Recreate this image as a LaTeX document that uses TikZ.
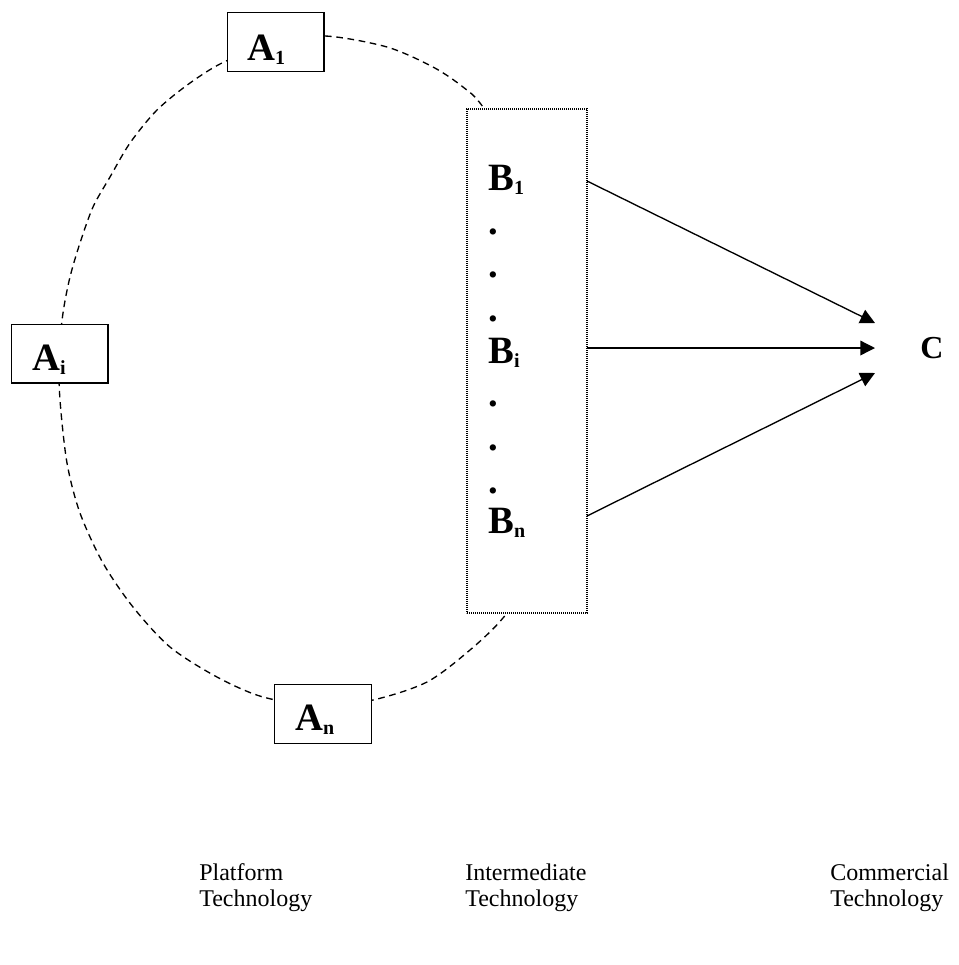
\documentclass[tikz,border=0pt]{standalone}
\usepackage{fontspec}
\setmainfont{Liberation Serif}
\usetikzlibrary{arrows.meta}
\newcommand\mysub[1]{\raisebox{-3pt}{\fontsize{15}{16}\selectfont #1}}
\begin{document}
\begin{tikzpicture}[x=0.75pt,y=-0.75pt,
  abox/.style={draw, line width=1pt, fill=white, inner sep=0pt,
    minimum width=72.5pt, minimum height=44pt},
  bbox/.style={draw, line width=0.9pt, fill=white, inner sep=0pt,
    dash pattern=on 0.8pt off 0.7pt, minimum width=90pt, minimum height=378pt},
  lbl/.style={anchor=base west, inner sep=0pt, font=\fontsize{29}{30}\selectfont\bfseries},
  clbl/.style={anchor=base west, inner sep=0pt, font=\fontsize{24}{26}\selectfont\bfseries},
  captext/.style={anchor=base west, inner sep=0pt, align=left, font=\fontsize{18}{19.5}\selectfont},
  ring/.style={line width=1pt, dash pattern=on 5pt off 3.5pt},
  arr/.style={line width=1pt, -{Triangle[length=11pt, width=11pt]}}]
\useasboundingbox (0,0) rectangle (959,965);

% dashed ring
\draw[ring] plot[smooth cycle, tension=0.5] coordinates {
  (275,43) (325,36) (387,47) (433,67) (463,87) (483,107)
  (530,180) (554,280) (560,380) (550,480) (527,580) (503,618)
  (470,650) (427,682) (373,700) (320,706) (263,697) (217,677)
  (170,647) (133,607) (103,563) (80,513) (67,463) (60,400) (59,355)
  (63,313) (70,277) (80,243) (93,207) (110,177) (130,143) (157,110)
  (190,83) (224,62)};

% boxes
\node[abox] (A1box) at (275.5,42) {};
\node[abox] (Aibox) at (59.5,353.5) {};
\node[abox] (Anbox) at (323,714) {};
\node[bbox] (Bbox) at (527,361) {};

% labels in boxes
\node[lbl] (A1) at (247,60) {A\mysub{1}};
\node[lbl] (Ai) at (32,370) {A\mysub{i}};
\node[lbl] (An) at (295,730) {A\mysub{n}};

\node[lbl] (B1) at (488,190) {B\mysub{1}};
\node[lbl] (d1) at (488,234) {.};
\node[lbl] (d2) at (488,277) {.};
\node[lbl] (d3) at (488,321) {.};
\node[lbl] (Bi) at (488,363) {B\mysub{i}};
\node[lbl] (d4) at (488,406) {.};
\node[lbl] (d5) at (488,450) {.};
\node[lbl] (d6) at (488,493) {.};
\node[lbl] (Bn) at (488,533) {B\mysub{n}};

\node[clbl] (C) at (920,358) {C};

% arrows
\coordinate (o1) at (587,181);
\coordinate (o2) at (587,348);
\coordinate (o3) at (587,516);
\coordinate (t1) at (875,323);
\coordinate (t2) at (875,348);
\coordinate (t3) at (875,373);
\draw[arr] (o1) -- (t1);
\draw[arr] (o2) -- (t2);
\draw[arr] (o3) -- (t3);

% captions
\node[captext] (p) at (199,906) {Platform\\Technology};
\node[captext] (m) at (465,906) {Intermediate\\Technology};
\node[captext] (c) at (830,906) {Commercial\\Technology};
\end{tikzpicture}
\end{document}
